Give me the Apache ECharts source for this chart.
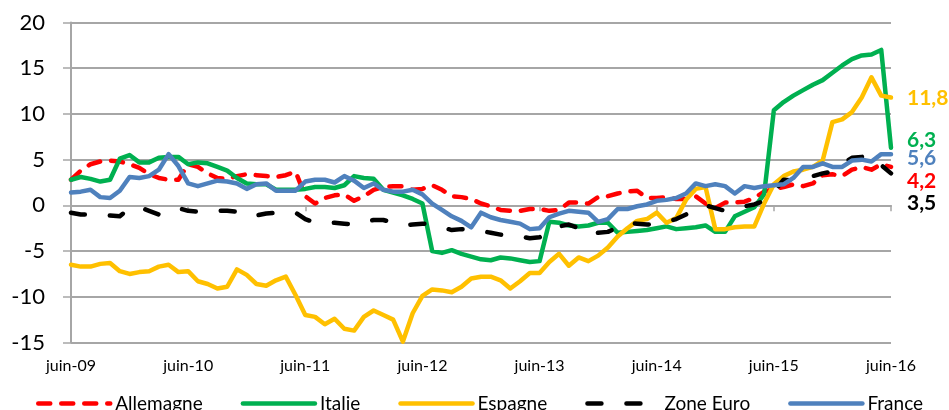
<!DOCTYPE html>
<html>
<head>
<meta charset="utf-8">
<script src="https://cdn.jsdelivr.net/npm/echarts@6/dist/echarts.min.js"></script>
<style>
  html, body { margin: 0; padding: 0; background: #fff; }
  #chart { width: 949px; height: 410px; }
</style>
</head>
<body>
<div id="chart"></div>
<script>
// mois de juin-09 a juin-16 (85 points mensuels)
var MOIS = ['juin', 'juil.', 'août', 'sept.', 'oct.', 'nov.', 'déc.', 'janv.', 'févr.', 'mars', 'avr.', 'mai'];
var ANNEES = ['09', '10', '11', '12', '13', '14', '15', '16'];
var categories = [];
for (var m = 0; m < 85; m++) {
  categories.push(MOIS[m % 12] + '-' + ANNEES[Math.floor((m + 5) / 12)]);
}

var allemagne = [2.8, 3.8, 4.5, 4.8, 4.9, 4.8, 4.5, 4.1, 3.4, 3.0, 2.8, 2.8,
  4.5, 4.2, 3.5, 3.0, 2.9, 3.2, 3.4, 3.3, 3.2, 3.1, 3.3, 3.7,
  1.0, 0.2, 0.8, 1.1, 1.2, 0.5, 1.0, 1.7, 2.0, 2.1, 2.1, 1.7,
  1.8, 2.2, 1.7, 1.0, 0.9, 0.7, 0.2, -0.1, -0.5, -0.6, -0.6, -0.4,
  -0.4, -0.6, -0.5, 0.3, 0.3, 0.2, 0.9, 1.0, 1.3, 1.5, 1.6, 0.8,
  0.8, 0.9, 0.7, 0.7, 1.0, 0.2, -0.3, 0.3, 0.3, 0.4, 0.8, 1.5,
  1.8, 2.0, 2.3, 2.1, 2.4, 3.3, 3.4, 3.2, 3.9, 4.2, 3.9, 4.5, 4.2];

var italie = [2.8, 3.1, 2.9, 2.6, 2.8, 5.1, 5.5, 4.7, 4.7, 5.2, 5.3, 5.3,
  4.5, 4.7, 4.6, 4.2, 3.8, 3.0, 2.4, 2.3, 2.3, 1.7, 1.7, 1.7,
  1.8, 2.0, 2.0, 1.9, 2.2, 3.2, 3.0, 2.9, 1.7, 1.4, 1.1, 0.7,
  0.2, -5.0, -5.2, -4.9, -5.3, -5.6, -5.9, -6.0, -5.7, -5.8, -6.0, -6.2,
  -6.1, -1.8, -1.9, -2.2, -2.3, -2.2, -1.9, -1.9, -3.0, -2.9, -2.8, -2.7,
  -2.5, -2.3, -2.6, -2.5, -2.4, -2.2, -2.9, -2.9, -1.2, -0.7, -0.2, 1.2,
  10.4, 11.3, 12.0, 12.6, 13.2, 13.7, 14.5, 15.3, 16.0, 16.4, 16.5, 17.0, 6.3];

var espagne = [-6.5, -6.7, -6.7, -6.4, -6.3, -7.2, -7.5, -7.3, -7.2, -6.7, -6.5, -7.3,
  -7.2, -8.3, -8.6, -9.1, -8.9, -7.0, -7.6, -8.6, -8.8, -8.2, -7.8, -9.8,
  -12.0, -12.2, -13.0, -12.4, -13.5, -13.7, -12.2, -11.5, -12.0, -12.5, -14.9, -11.8,
  -9.9, -9.2, -9.3, -9.5, -8.9, -8.0, -7.8, -7.8, -8.2, -9.1, -8.3, -7.4,
  -7.4, -6.2, -5.3, -6.6, -5.7, -6.1, -5.5, -4.6, -3.4, -2.5, -1.7, -1.5,
  -0.8, -1.9, -1.4, 0.6, 1.8, 2.0, -2.6, -2.6, -2.4, -2.3, -2.3, 0.2,
  2.3, 3.2, 3.7, 3.9, 4.2, 4.9, 9.1, 9.4, 10.2, 11.8, 14.0, 12.0, 11.8];

var zoneEuro = [-0.8, -1.0, -1.0, -1.1, -1.1, -1.2, -0.3, -0.2, -0.6, -1.0, -0.5, -0.3,
  -0.6, -0.7, -0.7, -0.6, -0.6, -0.7, -1.2, -1.1, -0.9, -0.8, -0.8, -0.8,
  -1.5, -1.9, -1.9, -1.9, -2.0, -2.1, -1.8, -1.6, -1.6, -1.9, -2.2, -2.1,
  -2.0, -2.1, -2.4, -2.7, -2.6, -2.7, -2.8, -3.0, -3.2, -3.3, -3.4, -3.6,
  -3.5, -2.8, -2.3, -2.1, -2.5, -3.2, -3.0, -2.9, -2.4, -1.9, -2.0, -2.1,
  -2.0, -1.8, -1.5, -1.0, -0.3, 0.0, -0.3, -0.6, -0.4, -0.1, 0.1, 0.5,
  1.5, 2.8, 2.7, 3.0, 3.2, 3.5, 3.7, 4.5, 5.2, 5.3, 5.4, 4.4, 3.5];

var france = [1.4, 1.5, 1.7, 0.9, 0.8, 1.6, 3.1, 3.0, 3.2, 3.9, 5.6, 4.3,
  2.4, 2.1, 2.4, 2.7, 2.6, 2.4, 1.8, 2.3, 2.4, 1.6, 1.6, 1.6,
  2.6, 2.8, 2.8, 2.5, 3.2, 2.7, 1.9, 2.4, 1.7, 1.5, 1.5, 1.7,
  1.2, 0.2, -0.5, -1.2, -1.7, -2.4, -0.8, -1.3, -1.6, -1.8, -2.0, -2.6,
  -2.5, -1.3, -0.9, -0.6, -0.7, -0.8, -1.8, -1.5, -0.4, -0.4, -0.1, 0.1,
  0.5, 0.6, 0.8, 1.3, 2.4, 2.1, 2.3, 2.1, 1.3, 2.1, 1.9, 2.1,
  2.2, 2.3, 3.0, 4.2, 4.2, 4.6, 4.2, 4.2, 4.9, 5.0, 4.8, 5.6, 5.6];

// etiquettes de fin de courbe
var finLabels = { Allemagne: '4,2', Italie: '6,3', Espagne: '11,8', 'Zone Euro': '3,5', France: '5,6' };

var police = 'Lato, "Liberation Sans", sans-serif';
var gris = '#a6a6a6';

function serie(nom, data, couleur, dash, decalage) {
  return {
    name: nom,
    type: 'line',
    data: data,
    symbol: 'none',
    itemStyle: { color: couleur },
    lineStyle: { color: couleur, width: 4.5, type: dash, cap: 'round', join: 'round' },
    endLabel: {
      show: true,
      formatter: finLabels[nom],
      color: couleur,
      fontFamily: police,
      fontWeight: 'bold',
      fontSize: 21,
      distance: 16,
      offset: [0, decalage]
    }
  };
}

var chart = echarts.init(document.getElementById('chart'));
chart.setOption({
  animation: false,
  backgroundColor: '#fff',
  grid: { left: 71, right: 58, top: 22.5, bottom: 67.5 },
  legend: {
    top: 389,
    left: 31,
    itemWidth: 72,
    itemHeight: 14,
    itemGap: 38,
    itemStyle: { opacity: 0 },
    lineStyle: { width: 4.5 },
    textStyle: { fontSize: 19, fontFamily: police, color: '#000' }
  },
  xAxis: [
    {
      type: 'category',
      data: categories,
      boundaryGap: false,
      axisLine: { show: false, onZero: false },
      axisTick: { show: false },
      axisLabel: { interval: 11, fontSize: 16, fontFamily: police, color: '#000', margin: 15 },
      splitLine: { show: false }
    },
    {
      type: 'category',
      data: categories,
      boundaryGap: false,
      position: 'bottom',
      axisLine: { show: true, onZero: true, lineStyle: { color: gris, width: 2 } },
      axisTick: { show: true, interval: 11, length: 6, lineStyle: { color: gris, width: 1.5 } },
      axisLabel: { show: false },
      splitLine: { show: false }
    }
  ],
  yAxis: {
    type: 'value',
    min: -15,
    max: 20,
    interval: 5,
    axisLine: { show: true, lineStyle: { color: gris, width: 2 } },
    axisTick: { show: true, length: 8, lineStyle: { color: gris, width: 1.5 } },
    axisLabel: { fontSize: 22, fontFamily: police, color: '#000', margin: 26 },
    splitLine: { lineStyle: { color: gris, width: 2 } }
  },
  series: [
    serie('Allemagne', allemagne, '#ff0000', [12, 11], 14),
    serie('Italie', italie, '#00b050', 'solid', -8),
    serie('Espagne', espagne, '#ffc000', 'solid', 1),
    serie('Zone Euro', zoneEuro, '#000000', [14, 25], 30),
    serie('France', france, '#4f81bd', 'solid', 4)
  ]
});
</script>
</body>
</html>
